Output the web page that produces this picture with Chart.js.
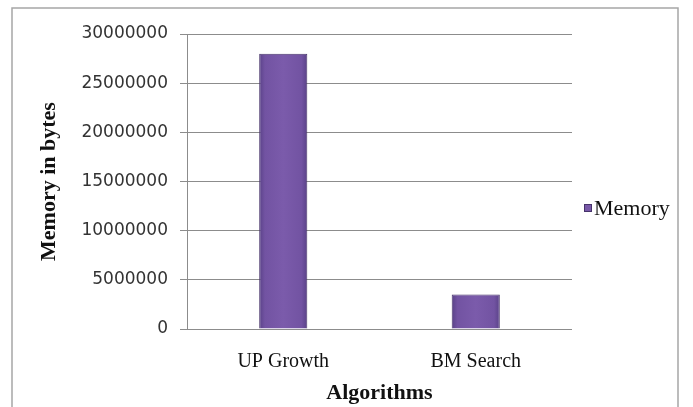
<!DOCTYPE html>
<html>
<head>
<meta charset="utf-8">
<script src="https://cdn.jsdelivr.net/npm/chart.js@4.4.0/dist/chart.umd.min.js"></script>
<style>
  html, body { margin: 0; padding: 0; background: #fff; }
  #wrap { width: 693px; height: 407px; position: relative; }
</style>
</head>
<body>
<div id="wrap"><canvas id="memory-chart"></canvas></div>
<script>
// memory chart

var algorithms = ["UP Growth", "BM Search"];
var memoryBytes = [28000000, 3500000];
var yTicks = [0, 5000000, 10000000, 15000000, 20000000, 25000000, 30000000];
var seriesName = "Memory";

var barColor = "#7858a8";
var barEdge = "#46336a";
var gridColor = "#8c8c8c";
var barShare = 0.25;

// bevel-ish shading across each bar, centred on the category pixel
function barFill(context) {
  var chart = context.chart;
  if (!chart.chartArea) return barColor;
  var xs = chart.scales.x;
  var cx = xs.getPixelForValue(context.dataIndex);
  var half = (xs.width / algorithms.length) * barShare / 2;
  var g = chart.ctx.createLinearGradient(cx - half, 0, cx + half, 0);
  g.addColorStop(0, "#5a4288");
  g.addColorStop(0.12, "#7253a2");
  g.addColorStop(0.5, "#7b5bab");
  g.addColorStop(0.88, "#7253a2");
  g.addColorStop(1, "#5a4288");
  return g;
}

// white page + grey frame like the pasted office chart
var framePlugin = {
  id: "frame",
  beforeDraw: function (chart) {
    var c = chart.ctx;
    c.save();
    c.fillStyle = "#fff";
    c.fillRect(0, 0, chart.width, chart.height);
    c.strokeStyle = "#a6a6a6";
    c.lineWidth = 1.5;
    c.strokeRect(12, 8, 666, 420);
    c.restore();
  }
};

// single legend entry at the right of the plot
var sideLegend = {
  id: "sideLegend",
  afterDraw: function (chart) {
    var c = chart.ctx;
    var area = chart.chartArea;
    var x = area.right + 12;
    var y = 208;
    c.save();
    c.fillStyle = barColor;
    c.strokeStyle = barEdge;
    c.lineWidth = 1;
    c.fillRect(x, y - 4, 8, 8);
    c.strokeRect(x + 0.5, y - 3.5, 7, 7);
    c.fillStyle = "#111";
    c.font = "22px 'Liberation Serif'";
    c.textBaseline = "middle";
    c.fillText(chart.data.datasets[0].label, x + 10, y + 1);
    c.restore();
  }
};

var ctx = document.getElementById("memory-chart").getContext("2d");

var chart = new Chart(ctx, {
  type: "bar",
  data: {
    labels: algorithms,
    datasets: [
      {
        label: seriesName,
        data: memoryBytes,
        backgroundColor: barFill,
        borderColor: barEdge,
        borderWidth: 1,
        categoryPercentage: 1,
        barPercentage: barShare,
      },
    ],
  },
  options: {
    responsive: true,
    maintainAspectRatio: false,
    animation: false,
    layout: {
      padding: { top: 34, right: 121, bottom: 0, left: 0 },
    },
    plugins: {
      legend: { display: false },
      tooltip: { enabled: false },
    },
    scales: {
      y: {
        min: 0,
        max: 30000000,
        afterFit: function (scale) { scale.width = 187; },
        afterBuildTicks: function (scale) {
          scale.ticks = yTicks.map(function (v) { return { value: v }; });
        },
        border: { display: true, color: gridColor, width: 1 },
        grid: {
          color: gridColor,
          lineWidth: 1,
          tickLength: 7,
          drawTicks: true,
        },
        ticks: {
          padding: 12,
          color: "#333",
          font: { family: "DejaVu Sans", size: 17 },
          callback: function (v) { return String(v); },
        },
        title: {
          display: true,
          text: "Memory in bytes",
          color: "#111",
          padding: { top: 36, bottom: 0 },
          font: { family: "Liberation Serif", size: 22, weight: "bold" },
        },
      },
      x: {
        afterFit: function (scale) { scale.height = 78; },
        border: { display: false },
        grid: { display: false, drawTicks: false },
        ticks: {
          padding: 21,
          color: "#111",
          font: { family: "Liberation Serif", size: 20 },
        },
        title: {
          display: true,
          text: "Algorithms",
          color: "#111",
          padding: { top: 0, bottom: 0 },
          font: { family: "Liberation Serif", size: 22, weight: "bold" },
        },
      },
    },
  },
  plugins: [framePlugin, sideLegend],
});
</script>
</body>
</html>
